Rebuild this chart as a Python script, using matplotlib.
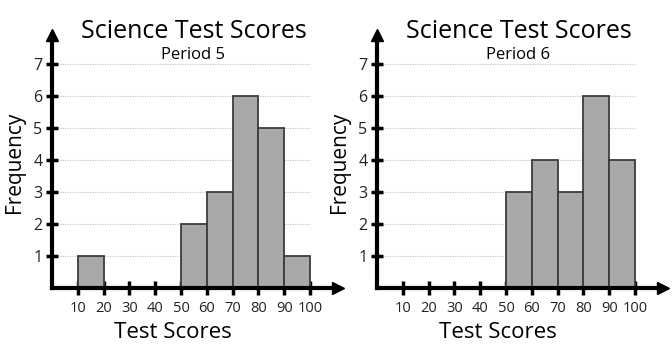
import matplotlib.pyplot as plt
import numpy as np

bin_edges = [10, 20, 30, 40, 50, 60, 70, 80, 90, 100]
period5_counts = [1, 0, 0, 0, 2, 3, 6, 5, 1]
period6_counts = [0, 0, 0, 0, 3, 4, 3, 6, 4]
y_ticks = [1, 2, 3, 4, 5, 6, 7]
titles = ['Period 5', 'Period 6']

plt.rcParams['font.family'] = ['Open Sans', 'DejaVu Sans']

fig = plt.figure(figsize=(6.72, 3.59), dpi=100)
W, H = 672, 359


def draw_panel(x0, counts, subtitle):
    # x0 = pixel position of the y axis; 10 units ~ 25.8 px
    px_per_unit = 2.58
    ax = fig.add_axes([x0 / W, (H - 288) / H, 111 * px_per_unit / W, 253 / H])
    ax.set_xlim(0, 111)
    ax.set_ylim(0, 7.9)

    left = np.array(bin_edges[:-1])
    ax.bar(left, counts, width=10, align='edge', color='#a9a9a9',
           edgecolor='#3c3c3c', linewidth=1.3, zorder=3)

    ax.hlines(y_ticks, 0, 100, colors='#c8c8c8', linestyles=(0, (1, 1)),
              linewidth=0.9, zorder=1)

    for side in ['top', 'right']:
        ax.spines[side].set_visible(False)
    for side in ['left', 'bottom']:
        ax.spines[side].set_linewidth(3)
        ax.spines[side].set_color('black')
        ax.spines[side].set_zorder(5)

    ax.plot(1, 0, '>k', markersize=9, transform=ax.get_yaxis_transform(),
            clip_on=False, zorder=6)
    ax.plot(0, 1, '^k', markersize=9, transform=ax.get_xaxis_transform(),
            clip_on=False, zorder=6)

    ax.set_xticks(bin_edges)
    ax.set_xticklabels([str(b) for b in bin_edges], fontsize=10.5, color='#222222')
    ax.set_yticks(y_ticks)
    ax.set_yticklabels([str(t) for t in y_ticks], fontsize=11.5, color='#222222')
    ax.tick_params(axis='x', direction='inout', length=10, width=2.5, pad=4)
    ax.tick_params(axis='y', direction='inout', length=8, width=2.5, pad=3)

    # axis labels and titles placed in figure pixels
    fig.text((x0 + 121) / W, 1 - 333 / H, 'Test Scores', ha='center',
             va='center', fontsize=16)
    fig.text((x0 - 37) / W, 1 - 162 / H, 'Frequency', ha='center',
             va='center', rotation=90, fontsize=15)
    fig.text((x0 + 142) / W, 1 - 32 / H, 'Science Test Scores', ha='center',
             va='center', fontsize=18)
    fig.text((x0 + 141) / W, 1 - 55 / H, subtitle, ha='center',
             va='center', fontsize=12)
    return ax


draw_panel(52, period5_counts, titles[0])
draw_panel(377, period6_counts, titles[1])

fig.savefig('out.png', dpi=100)
